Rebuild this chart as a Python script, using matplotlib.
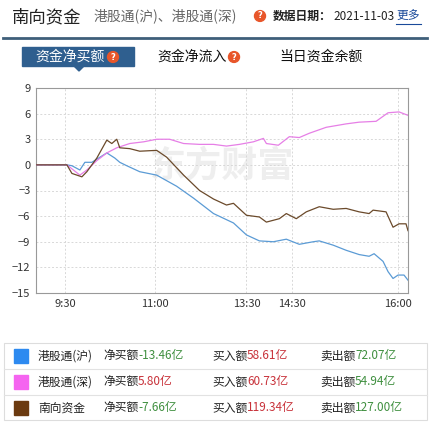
import matplotlib
matplotlib.use("Agg")
import matplotlib.pyplot as plt
from matplotlib.patches import Rectangle, Polygon, Circle
from matplotlib.lines import Line2D

plt.rcParams["font.family"] = ["Noto Sans CJK SC", "DejaVu Sans"]

# ── data (x = minute-ish index along the axis, y = 亿) ──────────────────
SH_X = [0, 31, 36, 44, 49, 56, 71, 79, 84, 91, 104, 121, 141, 158, 178, 198, 211, 224,
        238, 251, 264, 278, 284, 298, 311, 324, 334, 339, 348, 353, 358, 363, 369, 373]
SH_Y = [0, 0, -0.1, -0.6, 0.3, 0.3, 1.4, 0.8, 0.3, -0.1, -0.8, -1.2, -2.5, -3.9, -5.7,
        -6.8, -8.2, -8.9, -9.0, -8.7, -9.3, -9.0, -8.9, -9.4, -10.0, -10.5, -10.7, -10.4,
        -11.3, -12.5, -13.3, -12.9, -12.9, -13.5]
SZ_X = [0, 31, 44, 51, 61, 71, 81, 94, 108, 121, 134, 148, 164, 178, 191, 204, 218, 228,
        231, 243, 254, 264, 274, 291, 311, 324, 341, 353, 364, 373]
SZ_Y = [0, 0, -1.2, -0.6, 0.5, 1.4, 2.0, 2.5, 2.7, 3.0, 3.0, 2.5, 2.4, 2.4, 2.2, 2.4, 2.7,
        3.1, 2.5, 2.3, 3.3, 3.2, 3.7, 4.4, 4.8, 5.0, 5.1, 6.1, 6.2, 5.8]
NB_X = [0, 31, 36, 46, 51, 61, 71, 76, 81, 84, 94, 104, 121, 131, 148, 164, 178, 191, 198,
        211, 224, 231, 244, 251, 261, 271, 284, 298, 311, 324, 334, 338, 351, 358, 364, 371, 373]
NB_Y = [0, 0, -1.0, -1.4, -0.8, 0.8, 2.9, 2.5, 3.0, 2.0, 1.9, 1.6, 1.7, 0.9, -1.2, -3.0,
        -4.0, -4.7, -4.5, -5.9, -6.1, -6.7, -6.3, -5.7, -6.3, -5.5, -4.9, -5.2, -5.1, -5.5,
        -5.7, -5.3, -5.5, -7.3, -6.9, -6.9, -7.7]
TICK_POS = [29, 119, 211, 257, 363]
TICK_LABELS = ["9:30", "11:00", "13:30", "14:30", "16:00"]
Y_TICKS = [9, 6, 3, 0, -3, -6, -9, -12, -15]

NAMES = ["港股通(沪)", "港股通(深)", "南向资金"]
NET = ["-13.46亿", "5.80亿", "-7.66亿"]
BUY = ["58.61亿", "60.73亿", "119.34亿"]
SELL = ["72.07亿", "54.94亿", "127.00亿"]
LINE_COLORS = ["#5b9bd5", "#e67fe6", "#6b4a2b"]
BOX_COLORS = ["#2d8af0", "#f564f0", "#6b3a10"]
GREEN, RED = "#3f8f3f", "#c8323a"

W, H = 430, 422
fig = plt.figure(figsize=(W / 100, H / 100), dpi=100)


def fx(px):
    return px / W


def fy(py):
    return 1 - py / H


def qmark(x, y):
    fig.patches.append(Circle((fx(x), fy(y)), 5.5 / W, transform=fig.transFigure,
                              color="#e8562a"))
    fig.text(fx(x), fy(y), "?", color="white", fontsize=6, fontweight="bold",
             ha="center", va="center", family="DejaVu Sans")


# ── header ──
fig.text(fx(12), fy(17), "南向资金", fontsize=12.5, va="center", color="#222")
fig.text(fx(94), fy(16), "港股通(沪)、港股通(深)", fontsize=10, va="center", color="#666")
qmark(260, 16)
fig.text(fx(273), fy(16), "数据日期：", fontsize=8.5, va="center", color="#222", fontweight="bold")
fig.text(fx(333), fy(16), "2021-11-03", fontsize=8.5, va="center", color="#222")
fig.text(fx(396), fy(16), "更多", fontsize=8.5, va="center", color="#1a4a9a")
fig.lines.append(Line2D([fx(396), fx(421)], [fy(24), fy(24)], transform=fig.transFigure,
                        color="#1a4a9a", lw=0.8))
fig.lines.append(Line2D([fx(3), fx(427)], [fy(38), fy(38)], transform=fig.transFigure,
                        color="#3f5f7a", lw=2))

# ── tabs ──
fig.patches.append(Rectangle((fx(22), fy(66)), 112 / W, 19 / H, transform=fig.transFigure,
                             color="#2f5f8f"))
fig.patches.append(Polygon([(fx(74), fy(66)), (fx(84), fy(66)), (fx(79), fy(71))],
                           transform=fig.transFigure, color="#2f5f8f"))
fig.text(fx(35), fy(57), "资金净买额", fontsize=10, va="center", color="white")
qmark(113, 57)
fig.text(fx(157), fy(57), "资金净流入", fontsize=10, va="center", color="#111")
qmark(234, 57)
fig.text(fx(279), fy(57), "当日资金余额", fontsize=10, va="center", color="#111")

# ── chart ──
ax = fig.add_axes([fx(36), fy(293), 372 / W, 205 / H])
ax.text(0.5, 0.62, "东方财富", transform=ax.transAxes, fontsize=26, color="#eeeeee",
        ha="center", va="center", fontweight="bold", zorder=0)
for xs, ys, c in zip([SH_X, SZ_X, NB_X], [SH_Y, SZ_Y, NB_Y], LINE_COLORS):
    ax.plot(xs, ys, color=c, lw=0.9, zorder=3)
ax.set_xlim(0, 373)
ax.set_ylim(-15, 9)
ax.set_yticks(Y_TICKS)
ax.set_xticks(TICK_POS)
ax.set_xticklabels(TICK_LABELS)
ax.tick_params(length=0, labelsize=8, colors="#333", pad=4)
ax.grid(True, color="#d8d8d8", ls=(0, (2, 2)), lw=0.7)
for s in ax.spines.values():
    s.set_color("#999")
    s.set_linewidth(0.8)

# ── legend table ──
fig.patches.append(Rectangle((fx(4), fy(420)), 423 / W, 77 / H, transform=fig.transFigure,
                             fill=False, ec="#dddddd", lw=0.8))
for yy in (369, 395):
    fig.lines.append(Line2D([fx(4), fx(427)], [fy(yy), fy(yy)], transform=fig.transFigure,
                            color="#e2e2e2", lw=0.8))
for i in range(3):
    yc = 356 + 26 * i
    fig.patches.append(Rectangle((fx(14), fy(yc + 7)), 14 / W, 14 / H,
                                 transform=fig.transFigure, color=BOX_COLORS[i]))
    fig.text(fx(38), fy(yc), NAMES[i], fontsize=8.5, va="center", color="#222")
    fig.text(fx(103), fy(yc), "净买额", fontsize=8.5, va="center", color="#222")
    fig.text(fx(138), fy(yc), NET[i], fontsize=8.5, va="center",
             color=GREEN if NET[i].startswith("-") else RED)
    fig.text(fx(212), fy(yc), "买入额", fontsize=8.5, va="center", color="#222")
    fig.text(fx(247), fy(yc), BUY[i], fontsize=8.5, va="center", color=RED)
    fig.text(fx(320), fy(yc), "卖出额", fontsize=8.5, va="center", color="#222")
    fig.text(fx(355), fy(yc), SELL[i], fontsize=8.5, va="center", color=GREEN)

fig.savefig("out.png", dpi=100, facecolor="white")
